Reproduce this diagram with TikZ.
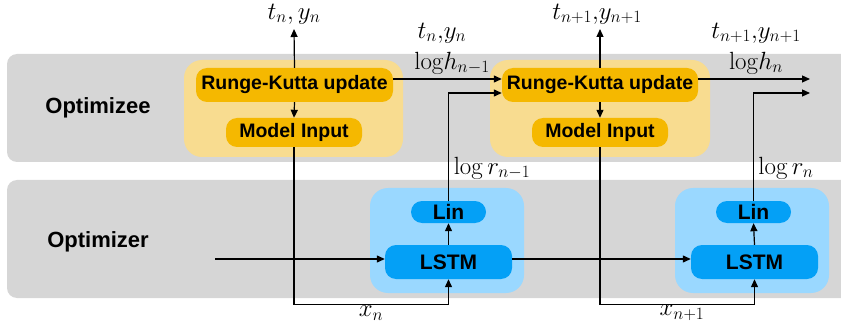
\documentclass[tikz,border=0pt]{standalone}
\usepackage[no-math]{fontspec}
\setmainfont{Liberation Sans}
\usetikzlibrary{arrows.meta,calc}
\definecolor{bandgray}{HTML}{D6D6D6}
\definecolor{lightyel}{HTML}{F8DC90}
\definecolor{darkyel}{HTML}{F5B800}
\definecolor{lightblu}{HTML}{9AD8FF}
\definecolor{darkblu}{HTML}{04A0F6}
\begin{document}
\begin{tikzpicture}[x=1pt,y=-1pt,
  band/.style={fill=bandgray,rounded corners=10pt},
  bigyel/.style={fill=lightyel,rounded corners=18pt},
  bigblu/.style={fill=lightblu,rounded corners=18pt},
  yelbox/.style={fill=darkyel,rounded corners=11pt,inner sep=0pt,font=\fontsize{19.5}{20}\selectfont\bfseries},
  blubox/.style={fill=darkblu,rounded corners=11pt,inner sep=0pt,font=\fontsize{21}{22}\selectfont\bfseries},
  lbl/.style={font=\fontsize{22}{23}\selectfont\bfseries},
  mth/.style={font=\fontsize{24}{25}\selectfont,inner sep=1pt},
  conn/.style={line width=1.2pt,-{Triangle[length=8pt,width=7pt]}}]
\useasboundingbox (0,0) rectangle (841,326);
% bands
\path[band] (7,54) rectangle (852,162);
\path[band] (7,180) rectangle (852,298);
\node[lbl] (optee) at (98,108) {Optimizee};
\node[lbl] (opter) at (98,242) {Optimizer};
% big boxes
\path[bigyel] (184,60) rectangle (403,157);
\path[bigyel] (490,60) rectangle (710,157);
\path[bigblu] (370,188) rectangle (524,293);
\path[bigblu] (675,188) rectangle (829,293);
% inner nodes
\node[yelbox,minimum width=197pt,minimum height=34pt] (rk1) at (294.5,85) {Runge-Kutta update};
\node[yelbox,minimum width=136pt,minimum height=29pt] (mi1) at (294,132.5) {Model Input};
\node[yelbox,minimum width=196pt,minimum height=34pt] (rk2) at (600,85) {Runge-Kutta update};
\node[yelbox,minimum width=136pt,minimum height=29pt] (mi2) at (600,132.5) {Model Input};
\node[blubox,minimum width=75pt,minimum height=22pt] (lin1) at (448.5,212) {Lin};
\node[blubox,minimum width=127pt,minimum height=34pt] (lstm1) at (448.5,262) {LSTM};
\node[blubox,minimum width=75pt,minimum height=22pt] (lin2) at (753.5,212) {Lin};
\node[blubox,minimum width=127pt,minimum height=34pt] (lstm2) at (754.5,262) {LSTM};
% free ends
\coordinate (top1) at (294,29);
\coordinate (top2) at (600,29);
\coordinate (outh) at (810,79);
\coordinate (outr) at (810,93);
\coordinate (inl) at (215,259);
% labels
\node[mth] (ty1) at (294,14) {$t_n, y_n$};
\node[mth] (ty2) at (597,14) {$t_{n+1}{,}y_{n+1}$};
\node[mth] (ty1b) at (442,33) {$t_n{,}y_n$};
\node[mth] (ty2b) at (756,33) {$t_{n+1}{,}y_{n+1}$};
\node[mth] (lh1) at (452,63) {$\mathrm{log}h_{n-1}$};
\node[mth] (lh2) at (756,63) {$\mathrm{log}h_{n}$};
\node[mth] (lr1) at (492,168) {$\log r_{n-1}$};
\node[mth] (lr2) at (786,168) {$\log r_{n}$};
\node[mth] (x1) at (371,313) {$x_n$};
\node[mth] (x2) at (682,313) {$x_{n+1}$};
% connectors
\draw[conn] (rk1.north) -- (top1);
\draw[conn] (rk2.north) -- (top2);
\draw[conn] (rk1.south) -- (mi1.north);
\draw[conn] (rk2.south) -- (mi2.north);
\draw[conn] (rk1.east |- 0,79) -- (rk2.west |- 0,79);
\draw[conn] (rk2.east |- 0,79) -- (outh);
\draw[conn] (lin1.north) |- (rk2.west |- 0,93);
\draw[conn] (lin2.north) |- (outr);
\draw[conn] (lstm1.north) -- (lin1.south);
\draw[conn] (lstm2.north) -- (lin2.south);
\draw[conn] (inl) -- (lstm1.west |- inl);
\draw[conn] (lstm1.east |- inl) -- (lstm2.west |- inl);
\draw[conn] (mi1.south) -- ++(0,157) -| (lstm1.south);
\draw[conn] (mi2.south) -- ++(0,157) -| (lstm2.south);
\end{tikzpicture}
\end{document}
